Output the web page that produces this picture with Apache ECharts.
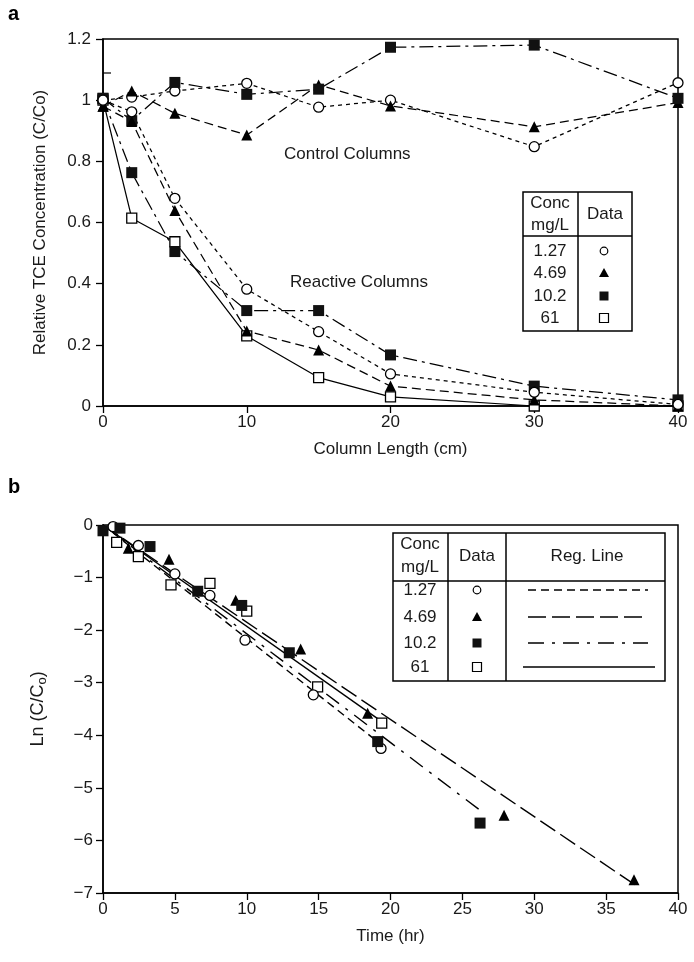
<!DOCTYPE html>
<html>
<head>
<meta charset="utf-8">
<script src="https://cdn.jsdelivr.net/npm/echarts@6/dist/echarts.min.js"></script>
<style>
html,body{margin:0;padding:0;background:#fff;}
#c{width:694px;height:962px;}
</style>
</head>
<body>
<div id="c"></div>
<script>
// ---------- Panel a data: relative TCE concentration vs column length ----------
var lengthsCm = [0, 2, 5, 10, 15, 20, 30, 40];
var ctrl127  = [1.00, 1.01, 1.03, 1.055, 0.977, 1.00, 0.848, 1.057];
var ctrl469  = [0.98, 1.03, 0.957, 0.886, 1.05, 0.981, 0.913, 0.992];
var ctrl102  = [1.006, 0.933, 1.058, 1.019, 1.036, 1.173, 1.18, 1.006];
var react127 = [1.00, 0.962, 0.679, 0.382, 0.243, 0.105, 0.045, 0.005];
var react469 = [0.98, 0.93, 0.639, 0.245, 0.183, 0.065, 0.02, 0.0];
var react102 = [1.006, 0.763, 0.505, 0.312, 0.312, 0.167, 0.065, 0.02];
var react61  = [1.00, 0.614, 0.537, 0.229, 0.093, 0.03, 0.0, 0.0];
var aYTicks = [0, 0.2, 0.4, 0.6, 0.8, 1, 1.2];
var aXTicks = [0, 10, 20, 30, 40];

// ---------- Panel b data: ln(C/Co) vs time ----------
var t127 = [0.7, 2.46, 5.0, 7.44, 9.88, 14.63, 19.34];
var ln127 = [-0.03, -0.39, -0.93, -1.34, -2.19, -3.23, -4.25];
var t469 = [1.76, 4.59, 9.23, 13.75, 18.41, 27.9, 36.94];
var ln469 = [-0.44, -0.65, -1.43, -2.36, -3.58, -5.52, -6.75];
var t102 = [0, 1.18, 3.27, 6.59, 9.65, 12.96, 19.11, 26.23];
var ln102 = [-0.11, -0.06, -0.41, -1.26, -1.53, -2.43, -4.12, -5.67];
var t61 = [0.95, 2.46, 4.73, 7.44, 10.0, 14.93, 19.39];
var ln61 = [-0.33, -0.60, -1.14, -1.11, -1.64, -3.08, -3.77];
// regression lines: [start, end] points
var reg127 = [[0, 0], [19.6, -4.23]];
var reg469 = [[0, 0], [37.2, -6.88]];
var reg102 = [[0, 0], [26.2, -5.42]];
var reg61  = [[0, 0], [19.4, -3.74]];
var bYTicks = [0, -1, -2, -3, -4, -5, -6, -7];
var bXTicks = [0, 5, 10, 15, 20, 25, 30, 35, 40];

var concLabels = ['1.27', '4.69', '10.2', '61'];

var FONT = '"Liberation Sans", Arial, Helvetica, sans-serif';
var TXT = '#1a1a1a';
var FS = 17;

var dashA = {c127: [4, 4], c469: [9, 5], c102: [14, 5, 3, 5], c61: 'solid'};
var dashB = {c127: [8, 5], c469: [18, 6], c102: [16, 8, 3, 8], c61: 'solid'};

var sym = {
  c127: {symbol: 'circle', symbolSize: 10, itemStyle: {color: '#fff', borderColor: '#000', borderWidth: 1.3, opacity: 1}},
  c469: {symbol: 'triangle', symbolSize: 11, itemStyle: {color: '#000', borderWidth: 0, opacity: 1}},
  c102: {symbol: 'rect', symbolSize: 11, itemStyle: {color: '#111', borderWidth: 0, opacity: 1}},
  c61:  {symbol: 'rect', symbolSize: 10, itemStyle: {color: '#fff', borderColor: '#000', borderWidth: 1.3, opacity: 1}}
};

function zip(xs, ys) { return xs.map(function (x, i) { return [x, ys[i]]; }); }

function lineSeriesA(key, ys, z) {
  return Object.assign({
    type: 'line', xAxisIndex: 0, yAxisIndex: 0, z: z || 3,
    data: zip(lengthsCm, ys),
    lineStyle: {color: '#000', width: 1.25, type: dashA[key]},
    emphasis: {disabled: true}, animation: false
  }, JSON.parse(JSON.stringify(sym[key])));
}
function scatterB(key, xs, ys) {
  return Object.assign({
    type: 'scatter', xAxisIndex: 1, yAxisIndex: 1, z: 4,
    data: zip(xs, ys), emphasis: {disabled: true}, animation: false
  }, JSON.parse(JSON.stringify(sym[key])));
}
function regB(key, pts) {
  return {
    type: 'line', xAxisIndex: 1, yAxisIndex: 1, z: 3, symbol: 'none',
    data: pts, lineStyle: {color: '#000', width: 1.4, type: dashB[key]},
    emphasis: {disabled: true}, animation: false
  };
}

var axisCommon = {
  axisLine: {show: true, onZero: false, lineStyle: {color: '#000', width: 1.5}},
  axisTick: {show: true, inside: false, length: 7, lineStyle: {color: '#000', width: 1.3}},
  splitLine: {show: false},
  axisLabel: {color: TXT, fontSize: FS, fontFamily: FONT, margin: 8},
  nameTextStyle: {color: TXT, fontSize: FS, fontFamily: FONT}
};
function ax(o) { return Object.assign(JSON.parse(JSON.stringify(axisCommon)), o); }

var grids = [
  {left: 103, top: 39, width: 575, height: 367, show: true, borderColor: '#000', borderWidth: 1.5, backgroundColor: 'transparent'},
  {left: 103, top: 525, width: 575, height: 368, show: true, borderColor: '#000', borderWidth: 1.5, backgroundColor: 'transparent'}
];

var xAxes = [
  ax({type: 'value', gridIndex: 0, min: aXTicks[0], max: aXTicks[aXTicks.length - 1], interval: 10,
      name: 'Column Length (cm)', nameLocation: 'middle', nameGap: 35}),
  ax({type: 'value', gridIndex: 1, min: bXTicks[0], max: bXTicks[bXTicks.length - 1], interval: 5,
      name: 'Time (hr)', nameLocation: 'middle', nameGap: 35})
];
var yAxes = [
  ax({type: 'value', gridIndex: 0, min: aYTicks[0], max: aYTicks[aYTicks.length - 1], interval: 0.2,
      name: 'Relative TCE Concentration (C/Co)', nameLocation: 'middle', nameGap: 54}),
  ax({type: 'value', gridIndex: 1, min: bYTicks[bYTicks.length - 1], max: bYTicks[0], interval: 1,
      name: 'Ln (C/C{s|o})', nameLocation: 'middle', nameGap: 54})
];
yAxes[0].axisLabel.margin = 12;
yAxes[1].axisLabel.margin = 10;
yAxes[1].axisLabel.formatter = function (v) { return String(v).replace('-', '\u2212'); };
yAxes[1].nameTextStyle.fontSize = 18;
yAxes[1].nameTextStyle.rich = {s: {fontSize: 13, fontFamily: FONT, color: TXT, padding: [9, 0, 0, 0]}};

var series = [
  lineSeriesA('c127', ctrl127), lineSeriesA('c469', ctrl469), lineSeriesA('c102', ctrl102),
  lineSeriesA('c61', react61, 3), lineSeriesA('c102', react102), lineSeriesA('c469', react469), lineSeriesA('c127', react127),
  regB('c127', reg127), regB('c469', reg469), regB('c102', reg102), regB('c61', reg61),
  scatterB('c61', t61, ln61), scatterB('c127', t127, ln127), scatterB('c469', t469, ln469), scatterB('c102', t102, ln102)
];

// ---------- legend tables (graphic) ----------
function txt(x, y, s, extra) {
  return {type: 'text', x: x, y: y, z: 10, style: Object.assign({text: s, fill: TXT, font: FS + 'px ' + FONT, align: 'center', verticalAlign: 'middle'}, extra || {})};
}
function ln(x1, y1, x2, y2, w, dash) {
  return {type: 'line', z: 10, shape: {x1: x1, y1: y1, x2: x2, y2: y2}, style: {stroke: '#000', lineWidth: w || 1.5, lineDash: dash || null}};
}
function legendSym(key, x, y) {
  if (key === 'c127') return {type: 'circle', z: 11, shape: {cx: x, cy: y, r: 3.8}, style: {fill: '#fff', stroke: '#000', lineWidth: 1.2}};
  if (key === 'c469') return {type: 'polygon', z: 11, shape: {points: [[x, y - 5], [x - 5, y + 4], [x + 5, y + 4]]}, style: {fill: '#000'}};
  if (key === 'c102') return {type: 'rect', z: 11, shape: {x: x - 4.5, y: y - 4.5, width: 9, height: 9}, style: {fill: '#111'}};
  return {type: 'rect', z: 11, shape: {x: x - 4.5, y: y - 4.5, width: 9, height: 9}, style: {fill: '#fff', stroke: '#000', lineWidth: 1.2}};
}
var keys = ['c127', 'c469', 'c102', 'c61'];
var g = [];
// Panel a legend
var la = {x: 523, y: 192, w: 109, h: 139, col: 578, head: 236, rows: [251, 273, 296, 318]};
g.push({type: 'rect', z: 9, shape: {x: la.x, y: la.y, width: la.w, height: la.h}, style: {fill: '#fff', stroke: '#000', lineWidth: 1.5}});
g.push(ln(la.col, la.y, la.col, la.y + la.h));
g.push(ln(la.x, la.head, la.x + la.w, la.head));
g.push(txt(550, 203, 'Conc'), txt(550, 225, 'mg/L'), txt(605, 214, 'Data'));
keys.forEach(function (k, i) {
  g.push(txt(550, la.rows[i], concLabels[i]));
  g.push(legendSym(k, 604, la.rows[i]));
});
// Panel b legend
var lb = {x: 393, y: 533, w: 272, h: 148, c1: 448, c2: 506, head: 581, rows: [590, 617, 643, 667]};
g.push({type: 'rect', z: 9, shape: {x: lb.x, y: lb.y, width: lb.w, height: lb.h}, style: {fill: '#fff', stroke: '#000', lineWidth: 1.5}});
g.push(ln(lb.c1, lb.y, lb.c1, lb.y + lb.h), ln(lb.c2, lb.y, lb.c2, lb.y + lb.h), ln(lb.x, lb.head, lb.x + lb.w, lb.head));
g.push(txt(420, 544, 'Conc'), txt(420, 567, 'mg/L'), txt(477, 556, 'Data'), txt(587, 556, 'Reg. Line'));
keys.forEach(function (k, i) {
  var y = lb.rows[i];
  g.push(txt(420, y, concLabels[i]));
  g.push(legendSym(k, 477, y));
  if (k === 'c61') g.push(ln(523, y, 655, y, 1.5));
  else g.push(ln(528, y, 648, y, 1.5, dashB[k]));
});
// stray inner tick near the top of panel a's y axis
g.push(ln(103, 73, 111, 73, 1.2));
// annotations and panel letters
g.push(txt(284, 154, 'Control Columns', {align: 'left'}));
g.push(txt(290, 282, 'Reactive Columns', {align: 'left'}));
g.push(txt(8, 14, 'a', {align: 'left', font: 'bold 20px ' + FONT, fill: '#000'}));
g.push(txt(8, 487, 'b', {align: 'left', font: 'bold 20px ' + FONT, fill: '#000'}));

var chart = echarts.init(document.getElementById('c'), null, {renderer: 'canvas'});
chart.setOption({
  animation: false,
  backgroundColor: '#fff',
  grid: grids, xAxis: xAxes, yAxis: yAxes, series: series, graphic: g
});
</script>
</body>
</html>
